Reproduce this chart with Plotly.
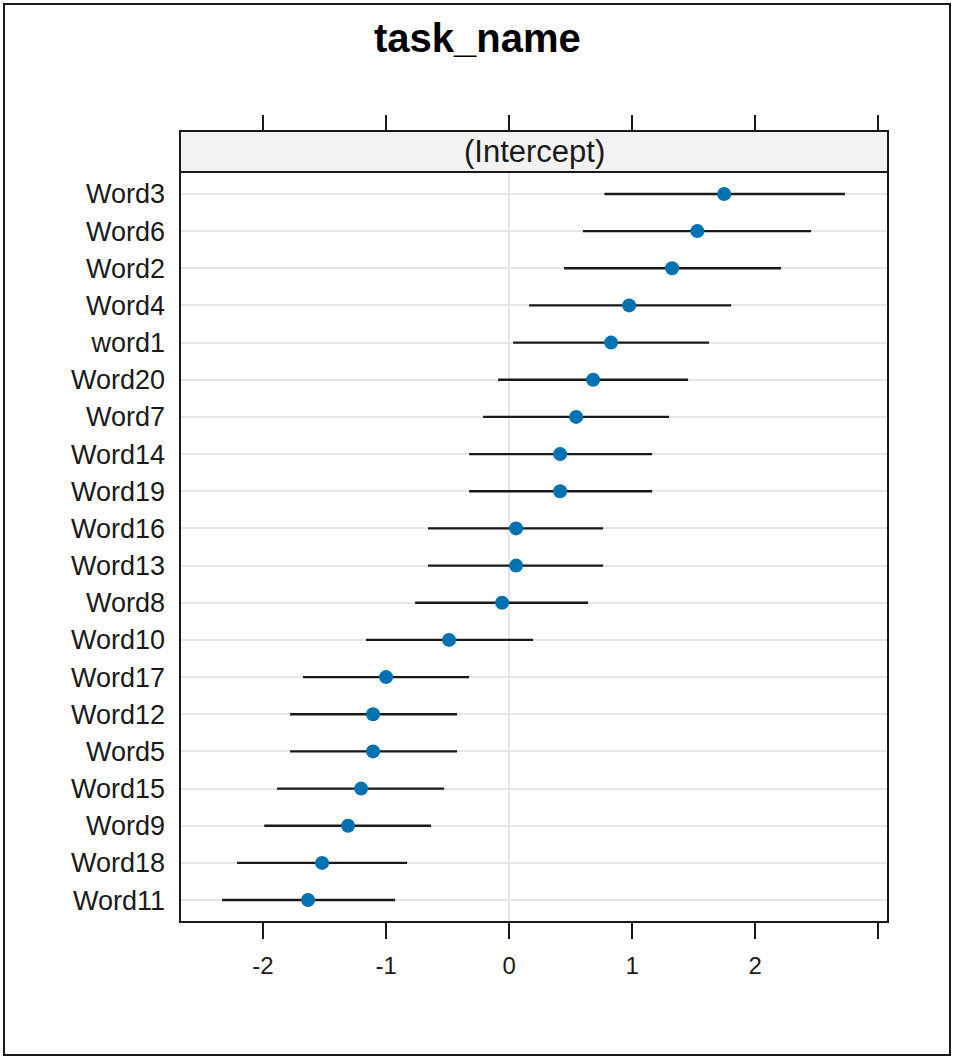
import plotly.graph_objects as go

words = ["Word3", "Word6", "Word2", "Word4", "word1", "Word20", "Word7", "Word14", "Word19", "Word16",
         "Word13", "Word8", "Word10", "Word17", "Word12", "Word5", "Word15", "Word9", "Word18", "Word11"]
estimate = [1.748, 1.53, 1.325, 0.976, 0.829, 0.683, 0.545, 0.415, 0.415, 0.057,
            0.057, -0.057, -0.488, -1.0, -1.106, -1.106, -1.203, -1.309, -1.52, -1.634]
lower = [0.775, 0.60, 0.447, 0.163, 0.033, -0.089, -0.211, -0.325, -0.325, -0.659,
         -0.659, -0.764, -1.163, -1.675, -1.78, -1.78, -1.886, -1.99, -2.211, -2.333]
upper = [2.73, 2.455, 2.21, 1.805, 1.626, 1.455, 1.30, 1.163, 1.163, 0.764,
         0.764, 0.642, 0.195, -0.325, -0.423, -0.423, -0.528, -0.634, -0.829, -0.927]
xtick_vals = [-2, -1, 0, 1, 2, 3]
xtick_text = ["-2", "-1", "0", "1", "2", ""]

W, H = 954, 1059
px_left, px_right = 180, 888
px_top, px_bottom = 172, 922
strip_top = 131

def fx(p):
    return p / W

def fy(p):
    return 1 - p / H

err_plus = [u - e for u, e in zip(upper, estimate)]
err_minus = [e - l for e, l in zip(estimate, lower)]

fig = go.Figure()
fig.add_trace(go.Scatter(
    x=estimate, y=words, mode="markers",
    marker=dict(color="#0072B2", size=14),
    error_x=dict(type="data", symmetric=False, array=err_plus, arrayminus=err_minus,
                 color="#1a1a1a", thickness=2.4, width=0),
    showlegend=False,
))
# invisible trace for top axis
fig.add_trace(go.Scatter(x=[estimate[0]], y=[words[0]], xaxis="x2", mode="markers",
                         marker=dict(opacity=0), showlegend=False, hoverinfo="skip"))

xrange = [-2.675, 3.08]
fig.update_layout(
    width=W, height=H,
    margin=dict(l=0, r=0, t=0, b=0),
    paper_bgcolor="white", plot_bgcolor="white",
    font=dict(family="Liberation Sans, Arial, sans-serif", color="#1a1a1a"),
    xaxis=dict(domain=[fx(px_left), fx(px_right)], range=xrange,
               tickvals=xtick_vals, ticktext=xtick_text, ticks="outside", ticklen=16,
               tickwidth=2, tickcolor="#1a1a1a", showgrid=False,
               zeroline=True, zerolinecolor="#e6e6e6", zerolinewidth=2,
               showline=False, tickfont=dict(size=24, color="#1a1a1a"), anchor="y",
               ticklabelstandoff=6),
    xaxis2=dict(overlaying="x", side="top", anchor="free", position=fy(strip_top),
                range=xrange, tickvals=xtick_vals, showticklabels=False,
                ticks="outside", ticklen=16, tickwidth=2, tickcolor="#1a1a1a",
                showgrid=False, zeroline=False, showline=False),
    yaxis=dict(domain=[fy(px_bottom), fy(px_top)],
               categoryorder="array", categoryarray=list(reversed(words)),
               range=[-0.59, 19.59], showgrid=True, gridcolor="#e6e6e6", gridwidth=2,
               ticks="", showline=False, zeroline=False, ticklabelstandoff=14,
               tickfont=dict(size=27, color="#1a1a1a")),
    shapes=[
        dict(type="rect", xref="paper", yref="paper", x0=fx(4), x1=fx(950), y0=fy(1055), y1=fy(4),
             line=dict(color="#1a1a1a", width=2)),
        dict(type="rect", xref="paper", yref="paper", x0=fx(px_left), x1=fx(px_right),
             y0=fy(px_top), y1=fy(strip_top), fillcolor="#f2f2f2",
             line=dict(color="#1a1a1a", width=2), layer="below"),
        dict(type="rect", xref="paper", yref="paper", x0=fx(px_left), x1=fx(px_right),
             y0=fy(px_bottom), y1=fy(px_top), line=dict(color="#1a1a1a", width=2)),
    ],
    annotations=[
        dict(text="<b>task_name</b>", x=0.5, y=fy(38), xref="paper", yref="paper",
             showarrow=False, font=dict(size=40, color="black"), xanchor="center", yanchor="middle"),
        dict(text="(Intercept)", x=(fx(px_left) + fx(px_right)) / 2, y=(fy(strip_top) + fy(px_top)) / 2,
             xref="paper", yref="paper", showarrow=False, font=dict(size=31, color="#1a1a1a"),
             xanchor="center", yanchor="middle"),
    ],
)

fig.write_html("out.html", config={"displayModeBar": False},
               post_script="document.body.style.margin='0';document.body.style.overflow='hidden';")
